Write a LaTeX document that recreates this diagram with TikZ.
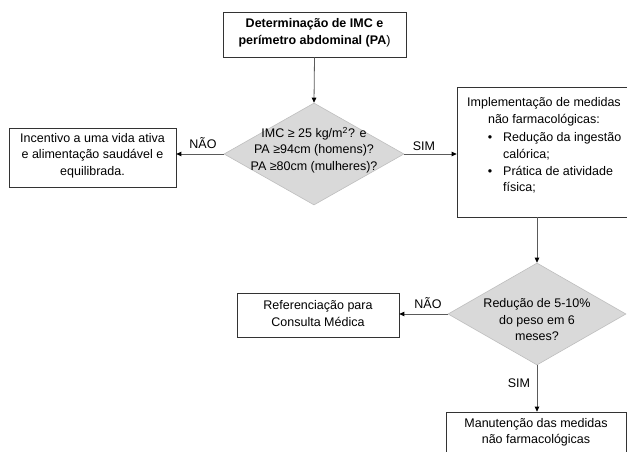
\documentclass[tikz,border=0pt]{standalone}
\usepackage{fontspec}
\setmainfont{Liberation Sans}
\usetikzlibrary{shapes.geometric,arrows.meta}
\definecolor{linegray}{RGB}{90,90,90}
\definecolor{dfill}{RGB}{217,217,217}
\definecolor{dborder}{RGB}{190,190,190}
\tikzset{
  txt/.style={font=\fontsize{12.5}{16.5}\selectfont, align=center, inner sep=0pt},
  boxnode/.style={draw=black!80, line width=0.7pt, fill=white, inner sep=0pt},
  dnode/.style={diamond, draw=dborder, fill=dfill, line width=0.6pt, inner sep=0pt, aspect=1.76},
  conn/.style={draw=linegray, line width=0.8pt, -{Triangle[length=5pt,width=4.5pt,color=black]}},
  lbl/.style={font=\fontsize{12.5}{15}\selectfont, inner sep=0pt}
}
\begin{document}
\begin{tikzpicture}[x=1pt,y=-1pt]
\useasboundingbox (0,0) rectangle (627,452);
% top box
\node[boxnode, minimum width=183pt, minimum height=45pt] (top) at (314.5,34.5) {};
\node[txt] (toptxt) at (314.5,33) {\bfseries Determinação de IMC e\\ \bfseries perímetro abdominal (PA\mdseries)};
% diamond 1
\node[dnode, minimum width=180pt, minimum height=102pt] (d1) at (314,154) {};
\node[txt] (d1txt) at (314,150) {IMC ≥ 25 kg/m\textsuperscript{2}? e\\PA ≥94cm (homens)?\\PA ≥80cm (mulheres)?};
% left box
\node[boxnode, minimum width=167pt, minimum height=59pt] (left) at (92.5,157.5) {};
\node[txt] (lefttxt) at (92.5,155.5) {Incentivo a uma vida ativa\\e alimentação saudável e\\equilibrada.};
% implementation box
\node[boxnode, minimum width=175pt, minimum height=130pt] (impl) at (544.5,152) {};
\node[txt] (impltxt) at (544,112) {Implementação de medidas\\não farmacológicas:};
\node[txt, anchor=base] (b1) at (490,142) {•};
\node[txt, anchor=base west] (l1) at (503,142) {Redução da ingestão};
\node[txt, anchor=base west] (l2) at (503,158.5) {calórica;};
\node[txt, anchor=base] (b2) at (490,175) {•};
\node[txt, anchor=base west] (l3) at (503,175) {Prática de atividade};
\node[txt, anchor=base west] (l4) at (503,191.5) {física;};
% diamond 2
\node[dnode, minimum width=178pt, minimum height=102pt] (d2) at (537,314) {};
\node[txt] (d2txt) at (537,320) {Redução de 5-10\%\\do peso em 6\\meses?};
% referral box
\node[boxnode, minimum width=162pt, minimum height=44pt] (ref) at (318,315) {};
\node[txt] (reftxt) at (318,313.5) {Referenciação para\\Consulta Médica};
% bottom box
\node[boxnode, minimum width=180pt, minimum height=60pt] (bot) at (536,442) {};
\node[txt] (bottxt) at (536,432.5) {Manutenção das medidas\\não farmacológicas};
% connectors
\draw[conn] (top.south) -- (d1.north);
\draw[conn] (d1.west) -- (d1.west -| left.east);
\draw[conn] (d1.east) -- (d1.east -| impl.west);
\draw[conn] (d2.north |- impl.south) -- (d2.north);
\draw[conn] (d2.west) -- (d2.west -| ref.east);
\draw[conn] (d2.south) -- (d2.south |- bot.north);
% labels
\node[lbl] (nao1) at (203,143) {NÃO};
\node[lbl] (sim1) at (424,146) {SIM};
\node[lbl] (nao2) at (428,303) {NÃO};
\node[lbl] (sim2) at (519,383) {SIM};
\end{tikzpicture}
\end{document}
